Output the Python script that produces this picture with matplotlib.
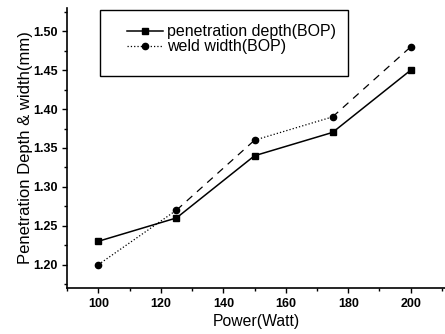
import numpy as np
import matplotlib.pyplot as plt
from matplotlib.ticker import MultipleLocator
from matplotlib.patches import Rectangle

plt.rcParams['font.family'] = ['Liberation Sans', 'DejaVu Sans']

# data
power = [100, 125, 150, 175, 200]
depth = [1.23, 1.26, 1.34, 1.37, 1.45]
width = [1.20, 1.27, 1.36, 1.39, 1.48]
# the scanned weld width line alternates between dotted and dashed segments
width_styles = [':', (0, (6, 5)), ':', (0, (6, 5))]

fig = plt.figure(figsize=(4.45, 3.34), dpi=100)
ax = fig.add_axes([0.151, 0.138, 0.849, 0.838])

ax.plot(power, depth, color='black', lw=1.1, marker='s', ms=4.5,
        label='penetration depth(BOP)')
for i in range(len(power) - 1):
    ax.plot(power[i:i + 2], width[i:i + 2], color='black', lw=0.9,
            ls=width_styles[i])
ax.plot(power, width, ls='none', color='black', marker='o', ms=4.5)
# legend handle for weld width
ax.plot([], [], color='black', lw=0.9, ls=':', marker='o', ms=4.5,
        label='weld width(BOP)')

ax.set_xlim(90, 211)
ax.set_ylim(1.17, 1.53)
ax.xaxis.set_major_locator(MultipleLocator(20))
ax.xaxis.set_minor_locator(MultipleLocator(10))
ax.yaxis.set_major_locator(MultipleLocator(0.05))
ax.yaxis.set_minor_locator(MultipleLocator(0.025))
ax.yaxis.set_major_formatter(plt.FormatStrFormatter('%.2f'))
ax.tick_params(which='both', direction='out', labelsize=9, width=1)
ax.tick_params(which='major', length=3.5)
ax.tick_params(which='minor', length=2)
for lbl in ax.get_xticklabels() + ax.get_yticklabels():
    lbl.set_fontweight('bold')
for s in ['top', 'right']:
    ax.spines[s].set_visible(False)
for s in ['left', 'bottom']:
    ax.spines[s].set_linewidth(1.2)

ax.set_xlabel('Power(Watt)', fontsize=11.3, labelpad=3)
ax.set_ylabel('Penetration Depth & width(mm)', fontsize=12, labelpad=0)

# boxed legend with empty space below the entries
ax.add_patch(Rectangle((0.087, 0.757), 0.656, 0.236, transform=ax.transAxes,
                       fill=False, edgecolor='black', lw=1.0, clip_on=False))
ax.legend(loc='upper left', bbox_to_anchor=(0.159, 0.942), fontsize=11.5,
          frameon=False, handlelength=2.25, handletextpad=0.25,
          labelspacing=0.0, borderpad=0, borderaxespad=0)

plt.savefig('out.png', dpi=100)
